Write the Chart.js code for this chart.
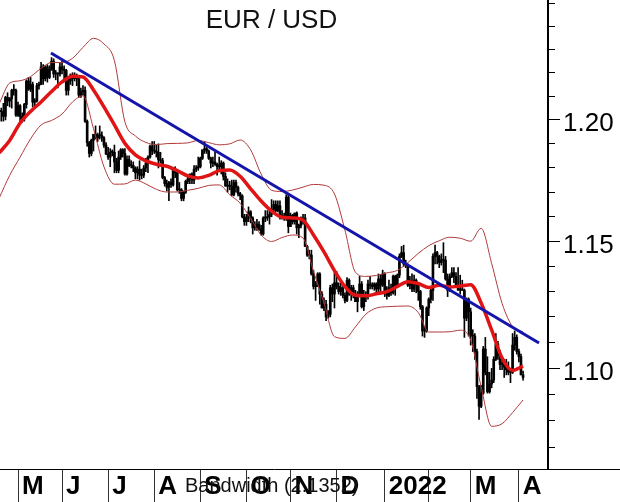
<!DOCTYPE html>
<html>
<head>
<meta charset="utf-8">
<script src="https://cdn.jsdelivr.net/npm/chart.js@4.4.1/dist/chart.umd.min.js"></script>
<style>
  html, body { margin: 0; padding: 0; background: #fff; }
  #wrap { position: relative; width: 620px; height: 502px; overflow: hidden; }
  #title { position: absolute; left: 0; top: 4px; width: 543px; text-align: center;
           font: 26px/30px "Liberation Sans", Arial, sans-serif; color: #111; }
  #bandwidth { position: absolute; left: 185px; top: 474px;
               font: 20px/23px "Liberation Sans", Arial, sans-serif; color: #111; }
</style>
</head>
<body>
<div id="wrap">
  <canvas id="chart" width="620" height="502"></canvas>
  <div id="title">EUR / USD</div>
  <div id="bandwidth">Bandwidth (2.1352)</div>
</div>
<script>
// trading days counted from 3 May 2021 (= 0); first bar is 20 Apr 2021
var firstDay = -9;

// ---- daily OHLC, Apr 2021 .. Apr 2022 ----
var opens = [
  1.2040,1.2035,1.2035,1.2015,1.2095,1.2080,1.2090,1.2125,1.2125,
  1.2020,1.2060,1.2015,1.2005,1.2065,1.2165,1.2130,1.2150,1.2075,1.2080,1.2145,1.2150,1.2225,1.2175,1.2225,1.2180,1.2215,1.2250,1.2195,1.2195,1.2195,
  1.2225,1.2215,1.2210,1.2125,1.2165,1.2190,1.2175,1.2180,1.2175,1.2105,1.2120,1.2125,1.1995,1.1905,1.1860,1.1915,1.1940,1.1925,1.1935,1.1935,1.1925,1.1895,
  1.1858,1.1845,1.1865,1.1865,1.1825,1.1790,1.1845,1.1875,1.1860,1.1775,1.1835,1.1810,1.1810,1.1800,1.1780,1.1795,1.1770,1.1770,1.1800,1.1820,1.1845,1.1890,
  1.1870,1.1870,1.1865,1.1835,1.1830,1.1760,1.1735,1.1720,1.1740,1.1730,1.1795,1.1780,1.1710,1.1710,1.1675,1.1700,1.1745,1.1755,1.1775,1.1750,1.1795,1.1800,
  1.1805,1.1840,1.1875,1.1880,1.1870,1.1840,1.1820,1.1825,1.1815,1.1805,1.1805,1.1820,1.1765,1.1725,1.1725,1.1725,1.1690,1.1740,1.1720,1.1695,1.1685,1.1600,
  1.1580,1.1595,1.1620,1.1595,1.1555,1.1555,1.1570,1.1550,1.1530,1.1595,1.1595,1.1600,1.1610,1.1630,1.1650,1.1625,1.1645,1.1605,1.1600,1.1605,1.1680,
  1.1560,1.1605,1.1580,1.1615,1.1555,1.1565,1.1585,1.1595,1.1480,1.1445,1.1445,1.1370,1.1320,1.1320,1.1370,1.1290,1.1235,1.1250,1.1200,1.1210,1.1315,1.1290,
  1.1335,1.1320,1.1300,1.1315,1.1285,1.1265,1.1345,1.1290,1.1315,1.1285,1.1260,1.1290,1.1330,1.1240,1.1280,1.1280,1.1330,1.1325,1.1320,1.1330,1.1310,1.1350,1.1325,
  1.1370,1.1300,1.1285,1.1315,1.1295,1.1360,1.1325,1.1365,1.1440,1.1455,1.1410,1.1405,1.1325,1.1345,1.1310,1.1345,1.1325,1.1300,1.1240,1.1145,1.1145,
  1.1235,1.1270,1.1305,1.1440,1.1455,1.1440,1.1415,1.1425,1.1425,1.1350,1.1305,1.1360,1.1375,1.1360,1.1320,1.1305,1.1310,1.1305,1.1195,1.1270,
  1.1220,1.1125,1.1125,1.1065,1.0930,1.0855,1.0905,1.1075,1.0985,1.0910,1.0940,1.0955,1.1035,1.1095,1.1050,1.1015,1.1015,1.1005,1.0995,1.0985,1.0985,1.1090,1.1120,
  1.1065,1.1045,1.0975
];
var highs = [
  1.2080,1.2050,1.2070,1.2100,1.2115,1.2095,1.2130,1.2150,1.2130,
  1.2075,1.2065,1.2030,1.2070,1.2170,1.2180,1.2180,1.2160,1.2090,1.2155,1.2160,1.2245,1.2235,1.2230,1.2235,1.2230,1.2265,1.2260,1.2210,1.2200,1.2240,
  1.2255,1.2230,1.2215,1.2185,1.2195,1.2200,1.2200,1.2195,1.2180,1.2135,1.2145,1.2140,1.2000,1.1910,1.1920,1.1940,1.1975,1.1945,1.1975,1.1950,1.1930,1.1905,
  1.1885,1.1880,1.1875,1.1895,1.1840,1.1870,1.1880,1.1880,1.1880,1.1850,1.1850,1.1830,1.1825,1.1805,1.1805,1.1830,1.1795,1.1810,1.1840,1.1850,1.1895,1.1910,
  1.1910,1.1895,1.1900,1.1865,1.1840,1.1765,1.1750,1.1745,1.1755,1.1800,1.1805,1.1785,1.1740,1.1715,1.1705,1.1750,1.1765,1.1775,1.1780,1.1810,1.1810,1.1845,
  1.1845,1.1875,1.1910,1.1885,1.1875,1.1845,1.1845,1.1865,1.1820,1.1845,1.1830,1.1825,1.1780,1.1755,1.1745,1.1750,1.1750,1.1750,1.1725,1.1700,1.1690,1.1610,
  1.1610,1.1640,1.1625,1.1600,1.1580,1.1590,1.1580,1.1565,1.1600,1.1625,1.1625,1.1625,1.1670,1.1665,1.1665,1.1665,1.1665,1.1625,1.1615,1.1690,1.1690,
  1.1615,1.1610,1.1615,1.1620,1.1570,1.1600,1.1610,1.1610,1.1485,1.1465,1.1465,1.1385,1.1340,1.1375,1.1375,1.1300,1.1275,1.1265,1.1225,1.1325,1.1330,1.1385,
  1.1380,1.1335,1.1335,1.1320,1.1295,1.1355,1.1350,1.1325,1.1325,1.1305,1.1300,1.1360,1.1340,1.1305,1.1300,1.1345,1.1360,1.1335,1.1335,1.1335,1.1370,1.1365,1.1385,
  1.1375,1.1320,1.1345,1.1330,1.1365,1.1365,1.1370,1.1450,1.1480,1.1485,1.1425,1.1410,1.1360,1.1370,1.1365,1.1350,1.1335,1.1305,1.1245,1.1160,1.1240,
  1.1275,1.1310,1.1450,1.1485,1.1460,1.1445,1.1450,1.1495,1.1440,1.1370,1.1370,1.1395,1.1395,1.1375,1.1395,1.1365,1.1345,1.1310,1.1275,1.1275,
  1.1235,1.1150,1.1135,1.1075,1.0935,1.0935,1.1085,1.1120,1.1045,1.0985,1.1000,1.1045,1.1135,1.1105,1.1070,1.1045,1.1035,1.1035,1.1025,1.1000,1.1135,1.1145,1.1130,
  1.1075,1.1055,1.0990
];
var lows = [
  1.2005,1.1995,1.1995,1.2000,1.2060,1.2055,1.2050,1.2105,1.2015,
  1.2015,1.1985,1.1990,1.1995,1.2050,1.2125,1.2120,1.2055,1.2050,1.2075,1.2130,1.2150,1.2150,1.2165,1.2160,1.2175,1.2210,1.2180,1.2170,1.2135,1.2185,
  1.2195,1.2165,1.2105,1.2105,1.2150,1.2145,1.2165,1.2145,1.2095,1.2095,1.2105,1.1990,1.1890,1.1845,1.1850,1.1870,1.1920,1.1910,1.1920,1.1910,1.1885,1.1855,
  1.1835,1.1805,1.1850,1.1780,1.1780,1.1780,1.1835,1.1845,1.1770,1.1770,1.1805,1.1800,1.1785,1.1755,1.1755,1.1750,1.1755,1.1760,1.1785,1.1780,1.1840,1.1855,
  1.1860,1.1845,1.1800,1.1820,1.1755,1.1725,1.1705,1.1665,1.1720,1.1725,1.1760,1.1705,1.1695,1.1665,1.1665,1.1695,1.1735,1.1735,1.1735,1.1735,1.1785,1.1790,
  1.1800,1.1835,1.1860,1.1860,1.1835,1.1800,1.1805,1.1810,1.1770,1.1790,1.1775,1.1750,1.1725,1.1700,1.1710,1.1685,1.1685,1.1700,1.1685,1.1670,1.1595,1.1565,
  1.1565,1.1580,1.1575,1.1530,1.1545,1.1545,1.1545,1.1525,1.1525,1.1580,1.1585,1.1570,1.1600,1.1615,1.1620,1.1620,1.1590,1.1590,1.1585,1.1585,1.1535,
  1.1560,1.1570,1.1570,1.1530,1.1515,1.1555,1.1570,1.1480,1.1440,1.1430,1.1365,1.1310,1.1265,1.1320,1.1250,1.1235,1.1225,1.1185,1.1195,1.1200,1.1260,1.1235,
  1.1310,1.1290,1.1285,1.1275,1.1255,1.1260,1.1285,1.1265,1.1275,1.1260,1.1220,1.1285,1.1235,1.1225,1.1260,1.1270,1.1310,1.1310,1.1305,1.1290,1.1290,1.1300,1.1320,
  1.1280,1.1270,1.1280,1.1285,1.1290,1.1285,1.1315,1.1355,1.1435,1.1400,1.1395,1.1320,1.1310,1.1300,1.1300,1.1295,1.1265,1.1230,1.1125,1.1120,1.1140,
  1.1205,1.1255,1.1265,1.1410,1.1410,1.1395,1.1405,1.1375,1.1345,1.1280,1.1300,1.1355,1.1335,1.1315,1.1305,1.1290,1.1305,1.1120,1.1185,1.1125,
  1.1090,1.1065,1.1035,1.0885,1.0805,1.0850,1.0900,1.0975,1.0905,1.0905,1.0925,1.0945,1.1030,1.1035,1.0995,1.0995,1.0965,1.0975,1.0975,1.0945,1.0980,1.1070,1.1055,
  1.1025,1.0975,1.0955
];
var closes = [
  1.2035,1.2035,1.2015,1.2095,1.2080,1.2090,1.2125,1.2125,1.2020,
  1.2060,1.2015,1.2005,1.2065,1.2165,1.2130,1.2150,1.2075,1.2080,1.2145,1.2150,1.2225,1.2175,1.2225,1.2180,1.2215,1.2250,1.2195,1.2195,1.2195,1.2225,
  1.2215,1.2210,1.2125,1.2165,1.2190,1.2175,1.2180,1.2175,1.2105,1.2120,1.2125,1.1995,1.1905,1.1860,1.1915,1.1940,1.1925,1.1935,1.1935,1.1925,1.1895,1.1858,
  1.1845,1.1865,1.1865,1.1825,1.1790,1.1845,1.1875,1.1860,1.1775,1.1835,1.1810,1.1810,1.1800,1.1780,1.1795,1.1770,1.1770,1.1800,1.1820,1.1845,1.1890,1.1870,
  1.1870,1.1865,1.1835,1.1830,1.1760,1.1735,1.1720,1.1740,1.1730,1.1795,1.1780,1.1710,1.1710,1.1675,1.1700,1.1745,1.1755,1.1775,1.1750,1.1795,1.1800,1.1805,
  1.1840,1.1875,1.1880,1.1870,1.1840,1.1820,1.1825,1.1815,1.1805,1.1805,1.1820,1.1765,1.1725,1.1725,1.1725,1.1690,1.1740,1.1720,1.1695,1.1685,1.1600,1.1580,
  1.1595,1.1620,1.1595,1.1555,1.1555,1.1570,1.1550,1.1530,1.1595,1.1595,1.1600,1.1610,1.1630,1.1650,1.1625,1.1645,1.1605,1.1600,1.1605,1.1680,1.1560,
  1.1605,1.1580,1.1615,1.1555,1.1565,1.1585,1.1595,1.1480,1.1445,1.1445,1.1370,1.1320,1.1320,1.1370,1.1290,1.1235,1.1250,1.1200,1.1210,1.1315,1.1290,1.1335,
  1.1320,1.1300,1.1315,1.1285,1.1265,1.1345,1.1290,1.1315,1.1285,1.1260,1.1290,1.1330,1.1240,1.1280,1.1280,1.1330,1.1325,1.1320,1.1330,1.1310,1.1350,1.1325,1.1370,
  1.1300,1.1285,1.1315,1.1295,1.1360,1.1325,1.1365,1.1440,1.1455,1.1410,1.1405,1.1325,1.1345,1.1310,1.1345,1.1325,1.1300,1.1240,1.1145,1.1145,1.1235,
  1.1270,1.1305,1.1440,1.1455,1.1440,1.1415,1.1425,1.1425,1.1350,1.1305,1.1360,1.1375,1.1360,1.1320,1.1305,1.1310,1.1305,1.1195,1.1270,1.1220,
  1.1125,1.1125,1.1065,1.0930,1.0855,1.0905,1.1075,1.0985,1.0910,1.0940,1.0955,1.1035,1.1095,1.1050,1.1015,1.1015,1.1005,1.0995,1.0985,1.0985,1.1090,1.1120,1.1065,
  1.1045,1.0975,1.0965
];

// moving average and bands, read every 5th trading day starting at firstDay
var bandStep = 5;
var maValues = [1.1862,1.1914,1.1987,1.2036,1.2076,1.2120,1.2161,1.2185,1.2182,1.2127,1.2055,1.1979,1.1902,1.1854,1.1829,1.1815,1.1807,
  1.1789,1.1767,1.1759,1.1769,1.1789,1.1792,1.1766,1.1714,1.1664,1.1623,1.1598,1.1595,1.1586,1.1526,1.1458,1.1383,1.1320,
  1.1285,1.1283,1.1291,1.1300,1.1320,1.1339,1.1332,1.1316,1.1325,1.1318,1.1322,1.1327,1.1255,1.1149,1.1040,1.0992,1.1009];
var upperBand = [1.2068,1.2156,1.2166,1.2184,1.2219,1.2244,1.2244,1.2262,1.2309,1.2348,1.2324,1.2252,1.1992,1.1933,1.1906,1.1897,1.1901,
  1.1902,1.1904,1.1914,1.1905,1.1896,1.1900,1.1916,1.1875,1.1775,1.1708,1.1703,1.1709,1.1721,1.1732,1.1729,1.1693,1.1546,
  1.1377,1.1360,1.1364,1.1374,1.1384,1.1415,1.1452,1.1483,1.1503,1.1517,1.1513,1.1501,1.1553,1.1412,1.1253,1.1162,1.1141];
var lowerBand = [1.1676,1.1769,1.1845,1.1921,1.1979,1.1998,1.2025,1.2076,1.2102,1.1964,1.1805,1.1733,1.1734,1.1750,1.1734,1.1712,1.1701,
  1.1701,1.1708,1.1716,1.1728,1.1730,1.1690,1.1655,1.1593,1.1526,1.1500,1.1516,1.1526,1.1514,1.1380,1.1255,1.1123,1.1116,
  1.1161,1.1211,1.1235,1.1240,1.1242,1.1243,1.1217,1.1141,1.1141,1.1142,1.1148,1.1110,1.0929,1.0779,1.0789,1.0831,1.0879];

// trend line end points: [day, price]
var trendDays = [15.7, 248.6];
var trendPrices = [1.2285, 1.1098];

// month starts and axis labels
var monthStarts = [0, 21, 43, 65, 87, 109, 130, 152, 175, 196, 216, 239];
var monthLabels = ['M', 'J', 'J', 'A', 'S', 'O', 'N', 'D', '2022', '', 'M', 'A'];
var priceTicks = [1.07, 1.08, 1.09, 1.10, 1.11, 1.12, 1.13, 1.14, 1.15, 1.16, 1.17, 1.18, 1.19, 1.20, 1.21, 1.22, 1.23, 1.24, 1.25];

var FONT = '"Liberation Sans", Arial, sans-serif';

function isMajor(v) {
  return Math.round(v * 100) % 5 === 0 && v < 1.24;
}

var wicks = [], bodies = [];
for (var i = 0; i < opens.length; i++) {
  wicks.push({ x: firstDay + i, y: [lows[i], highs[i]] });
  bodies.push({ x: firstDay + i, y: [opens[i], closes[i]] });
}
function bandPoints(arr) {
  return arr.map(function (v, i) { return { x: firstDay + i * bandStep, y: v }; });
}
var trend = trendDays.map(function (d, i) { return { x: d, y: trendPrices[i] }; });

// the bottom axis line runs on under the price scale
var axisExtend = {
  id: 'axisExtend',
  afterDraw: function (chart) {
    var ctx = chart.ctx, a = chart.chartArea;
    ctx.save();
    ctx.strokeStyle = '#000';
    ctx.lineWidth = 1;
    ctx.beginPath();
    ctx.moveTo(a.right, a.bottom + 0.5);
    ctx.lineTo(chart.width, a.bottom + 0.5);
    ctx.stroke();
    ctx.restore();
  }
};

new Chart(document.getElementById('chart'), {
  type: 'bar',
  data: {
    datasets: [
      { type: 'line', data: trend, borderColor: '#1414aa', borderWidth: 3, pointRadius: 0, order: 0 },
      { type: 'line', data: bandPoints(maValues), borderColor: '#e01414', borderWidth: 3.5, pointRadius: 0,
        cubicInterpolationMode: 'monotone', order: 1 },
      { type: 'line', data: bandPoints(upperBand), borderColor: '#b03a3a', borderWidth: 1, pointRadius: 0,
        cubicInterpolationMode: 'monotone', order: 2 },
      { type: 'line', data: bandPoints(lowerBand), borderColor: '#b03a3a', borderWidth: 1, pointRadius: 0,
        cubicInterpolationMode: 'monotone', order: 2 },
      { data: bodies, backgroundColor: '#000', barThickness: 2, minBarLength: 1, grouped: false, order: 3 },
      { data: wicks, backgroundColor: '#000', barThickness: 1, grouped: false, order: 4 }
    ]
  },
  options: {
    responsive: false,
    animation: false,
    layout: { padding: 0 },
    plugins: { legend: { display: false }, tooltip: { enabled: false } },
    scales: {
      x: {
        type: 'linear',
        min: -8.6,
        max: 252.9,
        offset: false,
        grid: { display: true, offset: false, drawOnChartArea: false, tickLength: 33, tickColor: '#333', tickWidth: 1 },
        border: { display: true, color: '#000', width: 1 },
        ticks: {
          autoSkip: false, maxRotation: 0, align: 'start', labelOffset: 4, padding: -31,
          color: '#000', font: { family: FONT, size: 26, weight: 'bold' },
          callback: function (v, i) { return monthLabels[i]; }
        },
        afterBuildTicks: function (s) { s.ticks = monthStarts.map(function (d) { return { value: d }; }); },
        afterFit: function (s) { s.height = 33; s.paddingLeft = 0; s.paddingRight = 0; }
      },
      y: {
        type: 'logarithmic',
        position: 'right',
        min: 1.0619,
        max: 1.2515,
        grid: {
          display: true, drawOnChartArea: false, tickLength: 12, tickColor: '#000', tickWidth: 1,
          tickBorderDash: function (c) { return c.tick && isMajor(c.tick.value) ? [] : [6, 30]; }
        },
        border: { display: true, color: '#000', width: 2 },
        ticks: {
          autoSkip: false, padding: 3, labelOffset: 4, color: '#000', font: { family: FONT, size: 26 },
          callback: function (v) { return isMajor(v) ? v.toFixed(2) : ''; }
        },
        afterBuildTicks: function (s) { s.ticks = priceTicks.map(function (v) { return { value: v }; }); },
        afterFit: function (s) { s.width = 72; s.paddingTop = 0; s.paddingBottom = 0; }
      }
    }
  },
  plugins: [axisExtend]
});
</script>
</body>
</html>
